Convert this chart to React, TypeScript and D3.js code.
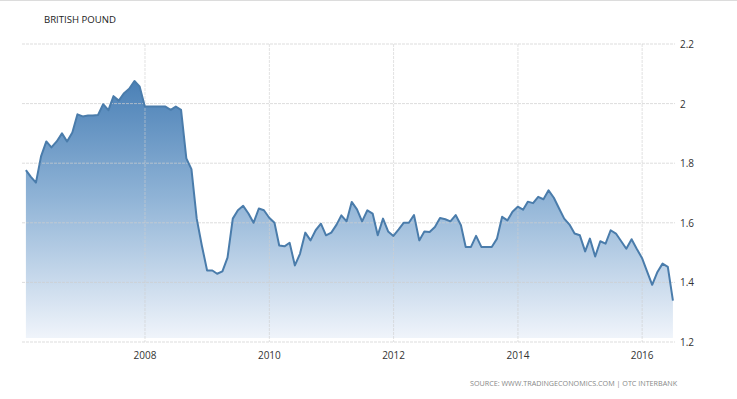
import React from "react";
import * as d3 from "d3";

const title = "BRITISH POUND";
const source = "SOURCE: WWW.TRADINGECONOMICS.COM | OTC INTERBANK";
const startYear = 2006;
// Monthly closes, Jan 2006 .. Jun 2016 (dated at month end)
const values: number[] = [
  1.777, 1.755, 1.735, 1.823, 1.873, 1.853, 1.873, 1.9, 1.873, 1.903, 1.964, 1.957,
  1.96, 1.96, 1.962, 1.998, 1.978, 2.025, 2.01, 2.035, 2.05, 2.076, 2.058, 1.99,
  1.99, 1.99, 1.99, 1.99, 1.979, 1.99, 1.979, 1.816, 1.78, 1.614, 1.524, 1.44,
  1.44, 1.429, 1.437, 1.483, 1.614, 1.642, 1.657, 1.631, 1.6, 1.648, 1.642, 1.617,
  1.6, 1.524, 1.521, 1.533, 1.457, 1.496, 1.567, 1.541, 1.575, 1.597, 1.558, 1.567,
  1.594, 1.625, 1.605, 1.67, 1.645, 1.605, 1.642, 1.631, 1.558, 1.614, 1.571, 1.556,
  1.578, 1.6, 1.6, 1.626, 1.541, 1.571, 1.569, 1.586, 1.616, 1.612, 1.605, 1.626,
  1.592, 1.519, 1.519, 1.556, 1.519, 1.519, 1.519, 1.547, 1.62, 1.608, 1.637, 1.654,
  1.644, 1.671, 1.666, 1.687, 1.679, 1.709, 1.684, 1.648, 1.614, 1.594, 1.564, 1.558,
  1.504, 1.547, 1.487, 1.538, 1.53, 1.575, 1.564, 1.538, 1.513, 1.545, 1.513, 1.482,
  1.435, 1.392, 1.435, 1.463, 1.452, 1.339,
];
const xTickYears = [2008, 2010, 2012, 2014, 2016];
const yTicks = [1.2, 1.4, 1.6, 1.8, 2, 2.2];

const W = 737;
const H = 399;

export default function App() {
  const dates = values.map((_, i) => new Date(startYear, i + 1, 0));
  const x = d3
    .scaleTime()
    .domain([new Date(2006, 0, 1), new Date(2016, 6, 1)])
    .range([20.8, 673.1]);
  const y = d3.scaleLinear().domain([1.2, 2.2]).range([342, 44]);

  const pts = values.map((v, i) => ({ d: dates[i], v }));
  const line = d3
    .line<{ d: Date; v: number }>()
    .x((p) => x(p.d))
    .y((p) => y(p.v));
  const area = d3
    .area<{ d: Date; v: number }>()
    .x((p) => x(p.d))
    .y0(y(1.2) - 4)
    .y1((p) => y(p.v));

  const font = "'Open Sans', 'DejaVu Sans', sans-serif";

  return (
    <svg
      width={W}
      height={H}
      style={{ position: "absolute", left: 0, top: 0, background: "#fff" }}
    >
      <defs>
        <linearGradient id="fillGrad" gradientUnits="userSpaceOnUse" x1="0" y1="80" x2="0" y2="340">
          <stop offset="0" stopColor="#4a80b6" />
          <stop offset="0.45" stopColor="#8fb3d6" />
          <stop offset="1" stopColor="#f1f5fb" />
        </linearGradient>
      </defs>
      <line x1={0} x2={W} y1={0.5} y2={0.5} stroke="#dcdcdc" />
      <text x={44} y={23} fontFamily={font} fontSize={9.6} fill="#222">
        {title}
      </text>

      <path d={area(pts) || ""} fill="url(#fillGrad)" />

      {yTicks.map((t) => (
        <line
          key={"h" + t}
          x1={22}
          x2={675}
          y1={y(t)}
          y2={y(t)}
          stroke="#cfcfcf"
          strokeOpacity={0.7}
          strokeDasharray="3,1"
        />
      ))}
      {xTickYears.map((yr) => (
        <line
          key={"v" + yr}
          x1={x(new Date(yr, 0, 1))}
          x2={x(new Date(yr, 0, 1))}
          y1={y(2.2)}
          y2={y(1.2)}
          stroke="#cfcfcf"
          strokeOpacity={0.6}
          strokeDasharray="3,1"
        />
      ))}

      <path d={line(pts) || ""} fill="none" stroke="#4a7cab" strokeWidth={2} strokeLinejoin="round" />

      {yTicks.map((t) => (
        <text
          key={"yl" + t}
          x={680}
          y={y(t) + 4}
          fontFamily={font}
          fontSize={10}
          fill="#333"
        >
          {d3.format("")(t)}
        </text>
      ))}
      {xTickYears.map((yr) => (
        <text
          key={"xl" + yr}
          x={x(new Date(yr, 0, 1))}
          y={359}
          textAnchor="middle"
          fontFamily={font}
          fontSize={10}
          fill="#333"
        >
          {yr}
        </text>
      ))}
      <text x={470} y={386} fontFamily={font} fontSize={7.2} fill="#888">
        {source}
      </text>
    </svg>
  );
}
